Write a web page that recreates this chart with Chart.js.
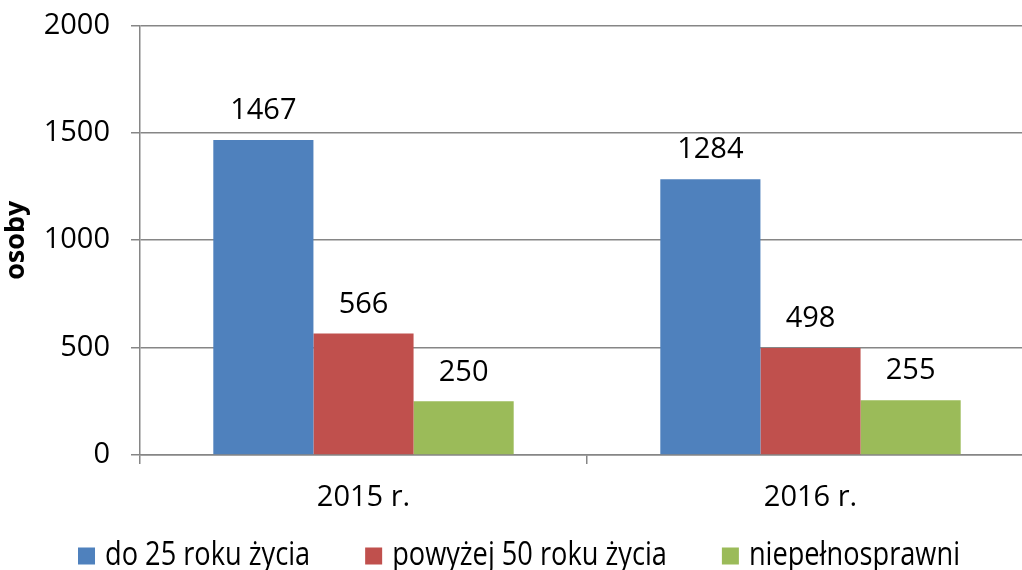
<!DOCTYPE html>
<html>
<head>
<meta charset="utf-8">
<script src="https://cdn.jsdelivr.net/npm/chart.js@4.4.1/dist/chart.umd.min.js"></script>
<style>
  html, body { margin: 0; padding: 0; background: #fff; overflow: hidden; }
  #wrap { position: relative; top: -13px; width: 1034px; height: 583px; }
</style>
</head>
<body>
<div id="wrap"><canvas id="chart"></canvas></div>
<script>
// dane z wykresu
const years = ["2015 r.", "2016 r."];
const under25 = [1467, 1284];
const over50 = [566, 498];
const disabled = [250, 255];
const yTicks = [0, 500, 1000, 1500, 2000];

const FONT = "'Open Sans', 'Liberation Sans', sans-serif";
const GRID = "#868686";

// etykiety wartości nad słupkami
const valueLabels = {
    id: "valueLabels",
    afterDatasetsDraw(chart) {
        const ctx = chart.ctx;
        ctx.save();
        ctx.font = "29px " + FONT;
        ctx.fillStyle = "#000";
        ctx.textAlign = "center";
        ctx.textBaseline = "middle";
        chart.data.datasets.forEach((ds, i) => {
            chart.getDatasetMeta(i).data.forEach((bar, j) => {
                ctx.fillText(ds.data[j], bar.x, bar.y - 29);
            });
        });
        ctx.restore();
    }
};

// legenda rysowana ręcznie (wbudowana ma za duży odstęp pionowy)
const bottomLegend = {
    id: "bottomLegend",
    afterDraw(chart) {
        const ctx = chart.ctx;
        const box = 17, gapBox = 10, gapItem = 55, squeeze = 0.85;
        ctx.save();
        ctx.font = "32px " + FONT;
        ctx.textBaseline = "middle";
        const items = chart.data.datasets.map(ds => ({
            text: ds.label, color: ds.backgroundColor, w: ctx.measureText(ds.label).width * squeeze
        }));
        const total = items.reduce((s, it) => s + box + gapBox + it.w, 0) + gapItem * (items.length - 1);
        let x = 519 - total / 2;
        const y = chart.height - 14;
        items.forEach(it => {
            ctx.fillStyle = it.color;
            ctx.fillRect(x, y - box / 2, box, box);
            ctx.save();
            ctx.translate(x + box + gapBox, y);
            ctx.scale(squeeze, 1);
            ctx.fillStyle = "#000";
            ctx.fillText(it.text, 0, 0);
            ctx.restore();
            x += box + gapBox + it.w + gapItem;
        });
        ctx.restore();
    }
};

new Chart(document.getElementById("chart"), {
    type: "bar",
    data: {
        labels: years,
        datasets: [
            { label: "do 25 roku życia", data: under25, backgroundColor: "#4F81BD" },
            { label: "powyżej 50 roku życia", data: over50, backgroundColor: "#C0504D" },
            { label: "niepełnosprawni", data: disabled, backgroundColor: "#9BBB59" }
        ]
    },
    options: {
        responsive: true,
        maintainAspectRatio: false,
        animation: false,
        layout: { padding: { top: 0, right: 0, left: 0, bottom: 45 } },
        datasets: { bar: { categoryPercentage: 0.672, barPercentage: 1.0 } },
        plugins: {
            legend: { display: false },
            tooltip: { enabled: false }
        },
        scales: {
            x: {
                grid: { display: true, drawOnChartArea: false, color: GRID, tickLength: 9, lineWidth: 1.5, offset: true },
                border: { color: GRID, width: 1.5 },
                ticks: { font: { family: FONT, size: 29 }, color: "#000", padding: 16 },
                afterFit(scale) { scale.height = 70; }
            },
            y: {
                min: 0,
                max: 2000,
                afterBuildTicks(scale) { scale.ticks = yTicks.map(v => ({ value: v })); },
                grid: { color: GRID, tickLength: 9, lineWidth: 1.5 },
                border: { color: GRID, width: 1.5 },
                ticks: { font: { family: FONT, size: 29 }, color: "#000", padding: 21, callback: v => String(v) },
                title: { display: true, text: "osoby", font: { family: FONT, size: 27, weight: "bold" }, color: "#000", padding: 0 },
                afterFit(scale) { scale.width = 140; }
            }
        }
    },
    plugins: [valueLabels, bottomLegend]
});
</script>
</body>
</html>
